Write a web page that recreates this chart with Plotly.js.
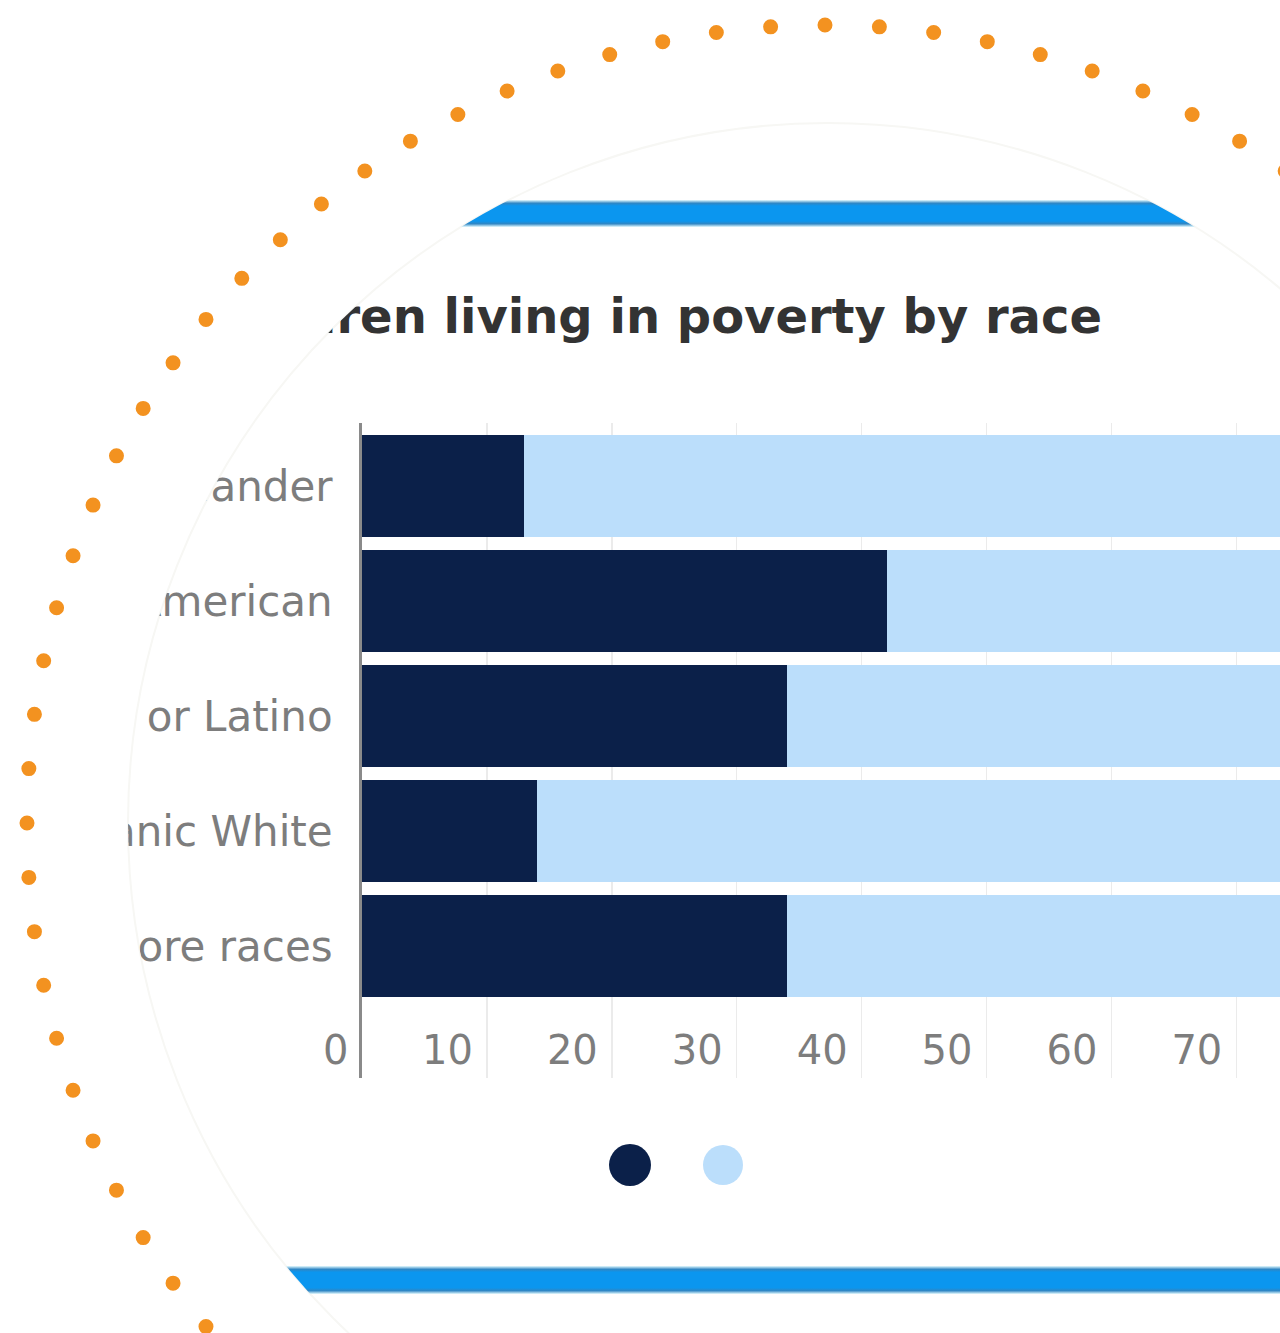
<!DOCTYPE html>
<html>
<head>
<meta charset="utf-8">
<script src="https://cdn.plot.ly/plotly-3.0.1.min.js"></script>
<style>
  html, body { margin: 0; padding: 0; background: #ffffff; width: 1280px; height: 1333px; overflow: hidden; }
  #deco { position: absolute; left: 0; top: 0; width: 1280px; height: 1333px; }
  #chartwrap { position: absolute; left: 0; top: 0; width: 1640px; height: 1333px;
               clip-path: circle(700px at 828px 823px); }
  #chart { width: 1640px; height: 1333px; }
</style>
</head>
<body>
<svg id="deco" width="1280" height="1333" xmlns="http://www.w3.org/2000/svg">
  <defs>
    <clipPath id="inner"><circle cx="828" cy="823" r="700"/></clipPath>
    <linearGradient id="band" x1="0" y1="0" x2="0" y2="1">
      <stop offset="0" stop-color="#e6fbff"/>
      <stop offset="0.12" stop-color="#2f86c4"/>
      <stop offset="0.22" stop-color="#0b96ef"/>
      <stop offset="0.78" stop-color="#0b96ef"/>
      <stop offset="0.88" stop-color="#2f86c4"/>
      <stop offset="1" stop-color="#e6fbff"/>
    </linearGradient>
  </defs>
  <circle cx="825" cy="823" r="798" fill="none" stroke="#f39220" stroke-width="15"
          stroke-linecap="round" pathLength="92" stroke-dasharray="0 1"/>
  <circle cx="828" cy="823" r="700" fill="#ffffff" stroke="#f7f7f4" stroke-width="2"/>
  <g clip-path="url(#inner)">
    <rect x="0" y="200" width="1700" height="27" fill="url(#band)"/>
    <rect x="0" y="1266" width="1700" height="28" fill="url(#band)"/>
  </g>
  <circle cx="630" cy="1165" r="21" fill="#0b2049"/>
  <circle cx="723" cy="1165" r="20" fill="#bbdefb"/>
</svg>
<div id="chartwrap"><div id="chart"></div></div>
<script>
const categories = ["Asian or Pacific Islander", "African American", "Hispanic or Latino", "Non-Hispanic White", "Two or more races"];
const inPoverty = [13, 42, 34, 14, 34];
const notInPoverty = [87, 58, 66, 86, 66];
const seriesNames = ["Living in poverty", "Not living in poverty"];
const xTickValues = [0, 10, 20, 30, 40, 50, 60, 70];

const traces = [
  { type: 'bar', orientation: 'h', y: categories, x: inPoverty, name: seriesNames[0],
    marker: { color: '#0b2049' }, hoverinfo: 'skip' },
  { type: 'bar', orientation: 'h', y: categories, x: notInPoverty, name: seriesNames[1],
    marker: { color: '#bbdefb' }, hoverinfo: 'skip' }
];

const tickFont = { family: 'DejaVu Sans', size: 40, color: '#7d7d7d' };

const layout = {
  width: 1640, height: 1333,
  paper_bgcolor: 'rgba(0,0,0,0)', plot_bgcolor: 'rgba(0,0,0,0)',
  barmode: 'stack', bargap: 0.11,
  showlegend: false,
  margin: { l: 362, r: 29, t: 423, b: 255, pad: 0 },
  title: {
    text: 'Children living in poverty by race',
    font: { family: 'DejaVu Sans', size: 48, color: '#333333', weight: 'bold' },
    xref: 'container', yref: 'container',
    x: 1102 / 1640, xanchor: 'right',
    y: 1 - 316 / 1333, yanchor: 'middle'
  },
  xaxis: {
    range: [0, 100],
    tickvals: xTickValues,
    ticktext: xTickValues.map(String),
    showgrid: true, gridcolor: '#ebebeb', gridwidth: 1.5,
    zeroline: false, showline: false,
    ticks: '',
    ticklabelposition: 'inside left',
    ticklabelshift: -14,
    ticklabelstandoff: 0,
    tickfont: tickFont
  },
  yaxis: {
    type: 'category',
    categoryorder: 'array', categoryarray: categories,
    range: [5.148, -0.548],
    showgrid: false, zeroline: false,
    showline: true, linecolor: '#8a8a8a', linewidth: 3,
    ticks: '',
    ticklabelstandoff: 18,
    tickfont: { family: 'DejaVu Sans', size: 42, color: '#7d7d7d' }
  },
  annotations: [{
    text: String(xTickValues[0]), x: xTickValues[0], xref: 'x',
    y: (1078 - 1050) / 655, yref: 'paper',
    xanchor: 'right', yanchor: 'middle', xshift: -12,
    showarrow: false, font: tickFont
  }]
};

Plotly.newPlot('chart', traces, layout, { displayModeBar: false, staticPlot: true });
</script>
</body>
</html>
